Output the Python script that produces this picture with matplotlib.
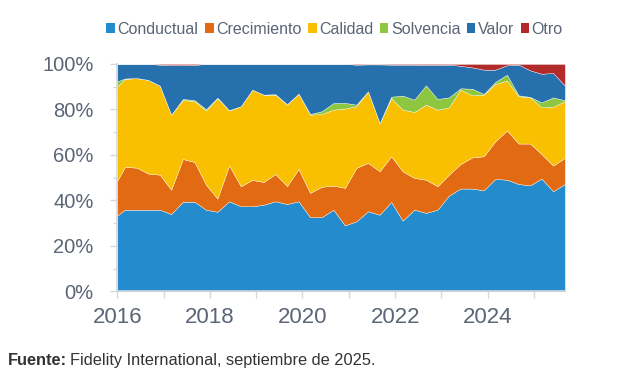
"""
Stacked 100% area chart of factor exposure (Fidelity International, Sep 2025).
Saves out.png at 622x374 px.
"""

import pandas as pd
import matplotlib
matplotlib.use("Agg")
import matplotlib.pyplot as plt
import matplotlib.dates as mdates
import matplotlib.ticker as mticker
from matplotlib.patches import Patch

# quarterly observations (first-of-month dates)
DATES = [
    "2016-01", "2016-03", "2016-06", "2016-09", "2016-12",
    "2017-03", "2017-06", "2017-09", "2017-12",
    "2018-03", "2018-06", "2018-09", "2018-12",
    "2019-03", "2019-06", "2019-09", "2019-12",
    "2020-03", "2020-06", "2020-09", "2020-12",
    "2021-03", "2021-06", "2021-09", "2021-12",
    "2022-03", "2022-06", "2022-09", "2022-12",
    "2023-03", "2023-06", "2023-09", "2023-12",
    "2024-03", "2024-06", "2024-09", "2024-12",
    "2025-03", "2025-06", "2025-09",
]

# shares in % per category
CONDUCTUAL = [33.4, 35.9, 35.9, 35.9, 35.9, 34.0, 39.4, 39.4, 35.9, 35.0,
              39.6, 37.4, 37.4, 38.1, 39.6, 38.4, 39.6, 32.6, 32.6, 35.9,
              29.0, 30.8, 35.2, 33.7, 39.3, 31.1, 35.9, 34.5, 35.9, 42.1,
              45.2, 45.2, 44.4, 49.4, 49.1, 47.2, 46.6, 49.6, 44.0, 47.2]
CRECIMIENTO = [15.3, 18.8, 18.5, 15.9, 15.4, 10.7, 18.8, 17.5, 11.0, 5.8,
               15.8, 8.8, 11.6, 10.0, 12.0, 7.9, 14.2, 10.7, 13.4, 10.6,
               16.5, 23.5, 21.3, 19.1, 20.1, 21.7, 14.0, 14.6, 10.3, 9.2,
               10.8, 13.7, 15.0, 16.6, 21.6, 17.8, 18.4, 10.8, 11.3, 11.5]
CALIDAD = [41.5, 38.7, 39.4, 41.2, 39.2, 33.0, 26.0, 26.7, 32.6, 44.2,
           24.1, 35.2, 39.7, 38.4, 34.9, 35.8, 33.2, 34.4, 32.0, 33.4,
           34.9, 27.1, 31.5, 21.2, 25.6, 27.1, 29.0, 33.0, 33.7, 29.6,
           32.7, 27.3, 27.1, 25.2, 22.0, 20.8, 20.3, 20.5, 25.9, 24.9]
SOLVENCIA = [2.2, 0.2, 0.0, 0.0, 0.0, 0.0, 0.4, 0.5, 0.6, 0.2,
             0.2, 0.0, 0.0, 0.0, 0.2, 0.2, 0.0, 0.3, 1.2, 2.9,
             2.5, 0.7, 0.0, 0.0, 0.6, 6.2, 5.4, 8.5, 4.7, 4.4,
             0.6, 2.9, 0.3, 0.9, 2.6, 0.4, 0.2, 2.2, 4.1, 0.4]
VALOR = [7.6, 6.4, 6.2, 7.0, 9.2, 21.8, 14.9, 15.5, 19.9, 14.8,
         20.3, 18.6, 11.3, 13.5, 13.3, 17.7, 13.0, 22.0, 20.8, 17.2,
         17.1, 17.6, 11.8, 25.8, 14.1, 13.6, 15.4, 9.0, 15.0, 14.4,
         9.9, 9.4, 10.7, 5.4, 4.1, 13.5, 11.7, 12.6, 10.7, 6.5]
OTRO = [0.0, 0.0, 0.0, 0.0, 0.3, 0.5, 0.5, 0.4, 0.0, 0.0,
        0.0, 0.0, 0.0, 0.0, 0.0, 0.0, 0.0, 0.0, 0.0, 0.0,
        0.0, 0.3, 0.2, 0.2, 0.3, 0.3, 0.3, 0.4, 0.4, 0.3,
        0.8, 1.5, 2.5, 2.5, 0.6, 0.3, 2.8, 4.3, 4.0, 9.5]

LABELS = ["Conductual", "Crecimiento", "Calidad", "Solvencia", "Valor", "Otro"]
COLORS = ["#248BCC", "#E26A12", "#F8C000", "#8DC63F", "#2670AD", "#B22A2A"]

TICK_COLOR = "#5B6577"
AXIS_GRAY = "#D3D7DE"

plt.rcParams["font.family"] = ["Liberation Sans", "DejaVu Sans"]

x = pd.to_datetime(DATES)
series = [CONDUCTUAL, CRECIMIENTO, CALIDAD, SOLVENCIA, VALOR, OTRO]
# normalise to exactly 100% per quarter
totals = [sum(v) for v in zip(*series)]
series = [[v / t * 100 for v, t in zip(s, totals)] for s in series]

fig = plt.figure(figsize=(6.22, 3.74), dpi=100, facecolor="white")
ax = fig.add_axes([0.1886, 0.221, 0.7195, 0.608])

ax.stackplot(x, *series, colors=COLORS, edgecolor="white",
             linewidth=0.25, alpha=1.0)

ax.set_xlim(x[0], x[-1])
ax.set_ylim(0, 100)

ax.yaxis.set_major_locator(mticker.MultipleLocator(20))
ax.yaxis.set_minor_locator(mticker.MultipleLocator(10))
ax.yaxis.set_major_formatter(mticker.FuncFormatter(lambda v, _: f"{v:.0f}%"))

ax.xaxis.set_major_locator(mdates.YearLocator(2))
ax.xaxis.set_minor_locator(mdates.YearLocator(1))
ax.xaxis.set_major_formatter(mdates.DateFormatter("%Y"))

ax.tick_params(axis="y", which="major", length=5, width=1, color=AXIS_GRAY,
               labelsize=14.5, labelcolor=TICK_COLOR, pad=12)
ax.tick_params(axis="y", which="minor", length=3, width=1, color=AXIS_GRAY)
ax.tick_params(axis="x", which="both", length=5, width=1, color=AXIS_GRAY,
               labelsize=16, labelcolor=TICK_COLOR, pad=6)

for side in ["top", "right"]:
    ax.spines[side].set_visible(False)
for side in ["left", "bottom"]:
    ax.spines[side].set_color(AXIS_GRAY)
    ax.spines[side].set_linewidth(1.2)

handles = [Patch(facecolor=c, edgecolor="none") for c in COLORS]
fig.legend(handles, LABELS, loc="center left", bbox_to_anchor=(0.148, 0.922),
           ncol=6, frameon=False, handlelength=0.55,
           handleheight=0.55, handletextpad=0.15, columnspacing=0.4,
           labelcolor=TICK_COLOR, prop={"size": 11.5})

# source line: bold label followed by regular text
src = fig.text(0.013, 0.024, "Fuente:", fontsize=11.8, fontweight="bold",
               color="#333333", va="baseline")
fig.canvas.draw()
bb = src.get_window_extent()
fig.text(bb.x1 / fig.bbox.width + 0.005, 0.024,
         "Fidelity International, septiembre de 2025.",
         fontsize=11.8, color="#333333", va="baseline")

fig.savefig("out.png", dpi=100, facecolor="white")
plt.close(fig)
